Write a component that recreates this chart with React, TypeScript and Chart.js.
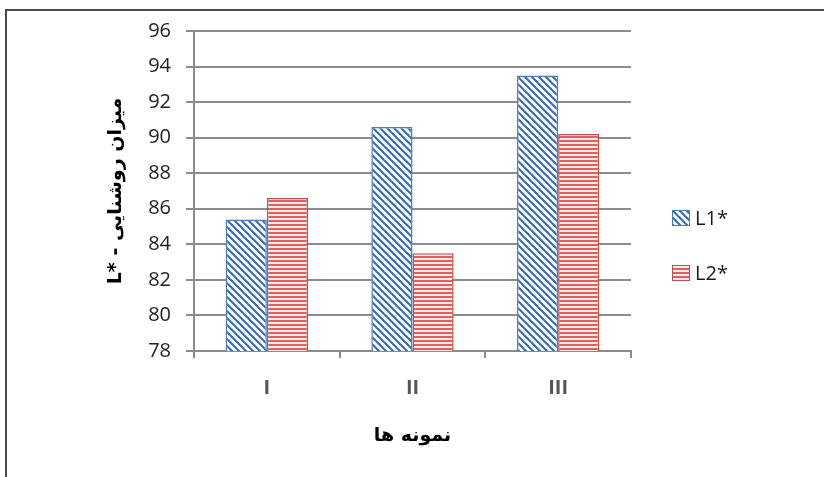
import React, { useEffect, useRef } from "react";
import { Chart, registerables } from "chart.js";

Chart.register(...registerables);

const categories = ["I", "II", "III"];
const seriesNames = ["L1*", "L2*"];
const l1Values = [85.4, 90.6, 93.5];
const l2Values = [86.6, 83.5, 90.2];
const yMin = 78;
const yMax = 96;
const yStep = 2;
const yTitle = "L* - میزان روشنایی";
const xTitle = "نمونه ها";

function makeDiagonalPattern(): CanvasPattern | string {
  const c = document.createElement("canvas");
  c.width = 7;
  c.height = 7;
  const g = c.getContext("2d");
  if (!g) return "#4a7ebb";
  g.fillStyle = "#ffffff";
  g.fillRect(0, 0, 7, 7);
  g.strokeStyle = "#3a6db4";
  g.lineWidth = 2.2;
  for (const x0 of [-7, 0, 7]) {
    g.beginPath();
    g.moveTo(x0 - 1, -1);
    g.lineTo(x0 + 8, 8);
    g.stroke();
  }
  return g.createPattern(c, "repeat") || "#4a7ebb";
}

function makeHorizontalPattern(): CanvasPattern | string {
  const c = document.createElement("canvas");
  c.width = 4;
  c.height = 4;
  const g = c.getContext("2d");
  if (!g) return "#c0504d";
  g.fillStyle = "#fbeaea";
  g.fillRect(0, 0, 4, 4);
  g.fillStyle = "#d9645f";
  g.fillRect(0, 0, 4, 2);
  return g.createPattern(c, "repeat") || "#c0504d";
}

const legendPlugin = {
  id: "customLegend",
  afterDraw(chart: any) {
    const ctx = chart.ctx as CanvasRenderingContext2D;
    chart.data.datasets.forEach((ds: any, i: number) => {
      const y = 218 + i * 55;
      ctx.save();
      ctx.fillStyle = ds.backgroundColor;
      ctx.fillRect(672, y - 8, 18, 16);
      ctx.strokeStyle = ds.borderColor;
      ctx.lineWidth = 1;
      ctx.strokeRect(672.5, y - 7.5, 17, 15);
      ctx.fillStyle = "#1a1a1a";
      ctx.font = '20px "Open Sans", "Liberation Sans", sans-serif';
      ctx.textBaseline = "middle";
      ctx.textAlign = "left";
      ctx.fillText(ds.label, 695, y + 1);
      ctx.restore();
    });
  },
};

export default function App() {
  const canvasRef = useRef<HTMLCanvasElement | null>(null);

  useEffect(() => {
    const canvas = canvasRef.current;
    if (!canvas) return;
    const blue = makeDiagonalPattern();
    const red = makeHorizontalPattern();
    const chart = new Chart(canvas, {
      type: "bar",
      data: {
        labels: categories,
        datasets: [
          {
            label: seriesNames[0],
            data: l1Values,
            backgroundColor: blue as any,
            borderColor: "#4a7ebb",
            borderWidth: 1.5,
            borderSkipped: false,
            barPercentage: 1,
            categoryPercentage: 0.565,
          },
          {
            label: seriesNames[1],
            data: l2Values,
            backgroundColor: red as any,
            borderColor: "#c0504d",
            borderWidth: 1.5,
            borderSkipped: false,
            barPercentage: 1,
            categoryPercentage: 0.565,
          },
        ],
      },
      options: {
        responsive: false,
        animation: false,
        layout: { padding: { left: 105, right: 193, top: 31, bottom: 30 } },
        plugins: { legend: { display: false }, tooltip: { enabled: false } },
        scales: {
          x: {
            grid: {
              drawOnChartArea: false,
              drawTicks: true,
              tickLength: 7,
              color: "#8c8c8c",
              lineWidth: 2,
              offset: true,
            },
            border: { color: "#8c8c8c", width: 2 },
            ticks: {
              color: "#555555",
              padding: 18,
              font: { family: '"Open Sans", "Liberation Sans", sans-serif', size: 20, weight: "bold" },
            },
            title: {
              display: true,
              text: xTitle,
              color: "#000000",
              padding: 0,
              font: { family: '"DejaVu Sans", sans-serif', size: 19, weight: "bold" },
            },
            afterFit: (s: any) => {
              s.height = 96;
            },
          },
          y: {
            min: yMin,
            max: yMax,
            ticks: {
              stepSize: yStep,
              color: "#222222",
              padding: 15,
              font: { family: '"Open Sans", "Liberation Sans", sans-serif', size: 20 },
            },
            grid: { color: "#8c8c8c", lineWidth: 2, tickLength: 8 },
            border: { color: "#8c8c8c", width: 2 },
            title: {
              display: true,
              text: yTitle,
              color: "#000000",
              padding: 0,
              font: { family: '"DejaVu Sans", sans-serif', size: 19, weight: "bold" },
            },
            afterFit: (s: any) => {
              s.width = 89;
            },
          },
        },
      },
      plugins: [legendPlugin],
    });
    return () => chart.destroy();
  }, []);

  return (
    <div style={{ position: "fixed", left: 0, top: 0, width: 824, height: 477, background: "#ffffff" }}>
      <div
        style={{
          position: "absolute",
          left: 5,
          top: 9,
          width: 819,
          height: 468,
          borderTop: "2px solid #4a4a4a",
          borderLeft: "2px solid #4a4a4a",
          boxSizing: "border-box",
        }}
      />
      <canvas ref={canvasRef} width={824} height={477} style={{ position: "absolute", left: 0, top: 0 }} />
    </div>
  );
}
